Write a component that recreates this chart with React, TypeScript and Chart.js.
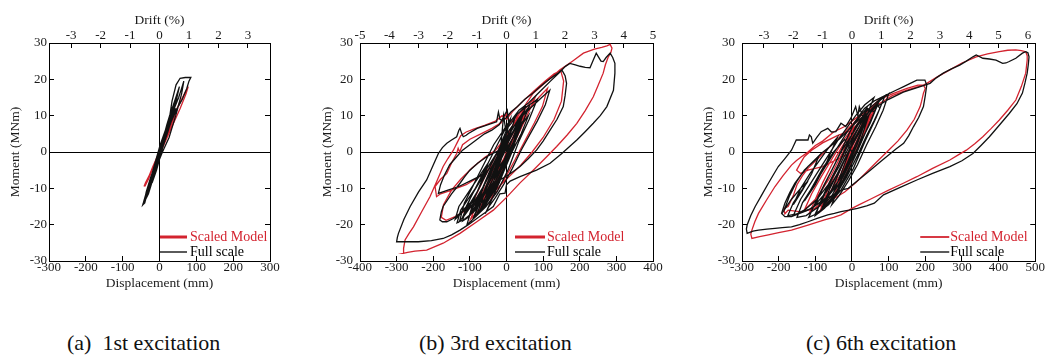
import React, { useEffect, useRef } from 'react';
import { Chart, registerables } from 'chart.js';

Chart.register(...registerables);

type Pair = [number, number];

const FONT = "'Liberation Serif', 'Tinos', 'Times New Roman', 'DejaVu Serif', serif";
const RED = '#d3232f';
const INK = '#1a1a1a';
const DRIFT_MM_PER_PERCENT = 80;

const momentTicks = [-30, -20, -10, 0, 10, 20, 30];

// ---------- (a) 1st excitation ----------
const aDispTicks = [-300, -200, -100, 0, 100, 200, 300];
const aDriftTicks = [-3, -2, -1, 0, 1, 2, 3];
const aFull: Pair[] = [
  [0, 0], [8, 3], [14, 5], [6, 2], [-4, -2], [-8, -3], [2, 1], [16, 6], [22, 7], [12, 3], [-2, -2], [-12, -5],
  [-16, -6], [-6, -2], [10, 4], [24, 8], [30, 10], [20, 6], [4, 0], [-10, -4], [-20, -8], [-24, -9], [-14, -5],
  [4, 1], [22, 7], [34, 11], [40, 13], [30, 9], [12, 3], [-6, -3], [-22, -8], [-30, -11], [-34, -12], [-24, -8],
  [-6, -2], [14, 4], [28, 10], [34, 14], [45, 18.5], [56, 20.3], [70, 20.5], [85, 20.5], [80, 19.5], [74, 17.5],
  [62, 14.5], [48, 12], [30, 8], [10, 2], [-10, -5], [-26, -10], [-36, -12], [-42, -13.5], [-45, -14.5],
  [-40, -14], [-30, -10], [-14, -4], [6, 2], [24, 8], [40, 12], [52, 15], [60, 17.5], [66, 19.5], [60, 16],
  [44, 10], [26, 4], [8, 0], [-8, -4], [-20, -7], [-30, -10], [-38, -13], [-42, -14], [-36, -11], [-24, -7],
  [-10, -3], [4, 1], [20, 5], [34, 9], [44, 12], [36, 10], [20, 6], [6, 2], [-6, -3], [-18, -7], [-28, -10.5],
  [-36, -12.5], [-26, -8], [-12, -3], [2, 2], [16, 6], [30, 10], [40, 13], [48, 15.5], [38, 11], [24, 6],
  [8, 1], [-8, -5], [-20, -8.5], [-12, -5], [0, 0], [12, 4], [26, 9], [18, 5], [4, 0],
  [10, 3.5], [24, 8.5], [36, 12.5], [46, 15.5], [54, 18], [44, 13.5], [30, 9], [14, 4], [-2, -1.5], [-16, -6],
  [-28, -10], [-38, -13], [-44, -14], [-34, -10.5], [-20, -6], [-6, -1], [8, 3], [20, 7.5], [32, 11.5],
  [42, 14], [50, 16.5], [40, 12], [26, 7], [10, 2], [-4, -3], [-18, -7.5], [-30, -11.5], [-40, -13.5],
  [-28, -9], [-14, -4], [0, 0]
];
const aModel: Pair[] = [
  [0, 0], [10, 2.5], [18, 4.5], [8, 1.5], [-6, -1.5], [-10, -2.5], [2, 0.5], [22, 5.5], [28, 7], [14, 3],
  [-4, -1.5], [-16, -4], [-20, -5], [-8, -2], [12, 3], [32, 8], [38, 9.5], [26, 6], [6, 1], [-12, -3.5],
  [-26, -6], [-30, -7], [-18, -4], [4, 1], [30, 7.5], [46, 11.5], [54, 13.5], [40, 9.5], [18, 4], [-6, -2],
  [-28, -6.5], [-38, -8.5], [-42, -9.5], [-30, -7], [-8, -2], [20, 5], [44, 11], [60, 14.5], [70, 16.5],
  [76, 17.5], [78, 18], [72, 16], [56, 12], [34, 7], [12, 2], [-10, -3], [-26, -6], [-36, -8.5], [-40, -9.5],
  [-30, -7.5], [-14, -3.5], [6, 1.5], [26, 6], [42, 10], [30, 7], [10, 2], [0, 0]
];

// ---------- (b) 3rd excitation ----------
const bDispTicks = [-400, -300, -200, -100, 0, 100, 200, 300, 400];
const bDriftTicks = [-5, -4, -3, -2, -1, 0, 1, 2, 3, 4, 5];
const bFull: Pair[] = [
  [0, 0], [18, 4], [32, 7], [20, 3], [-8, -3], [-30, -8], [-44, -11], [-28, -6], [-4, 1], [22, 6], [40, 9],
  [26, 4], [0, -3], [-36, -10], [-58, -14], [-72, -16], [-52, -11], [-24, -4], [4, 3], [30, 8], [50, 11],
  [62, 12.5], [40, 7], [12, 0], [-18, -7], [-48, -13], [-78, -17], [-92, -18.5], [-70, -13], [-42, -6],
  [-16, 1], [-8, 10], [-2, 6], [14, 8], [30, 10.5], [48, 12], [70, 13.5], [84, 14.5], [62, 9], [34, 3],
  [4, -5], [-26, -11], [-56, -15], [-86, -18], [-108, -20], [-98, -16.5], [-78, -12.5], [-56, -8], [-32, -3],
  [-12, 3], [8, 8], [34, 11.5],
  [60, 13.5], [90, 16.5], [120, 19.5], [146, 22], [160, 23.5], [173, 24.4], [188, 24], [201, 23.6], [215, 23.3],
  [228, 23.2], [237, 25.3], [245, 27.2], [251, 26.2], [258, 25], [264, 24.9], [272, 26], [283, 27.2], [290, 26],
  [296, 24.4], [296, 21.7], [292, 17], [274, 12.5], [256, 10], [237, 7.9], [214, 5.5], [192, 3.3], [170, 1.3],
  [151, -0.4], [119, -3.1], [82, -5], [37, -6.8], [10, -8], [0, -9], [-4, -11.3], [-18, -11.5], [-36, -15],
  [-60, -16.8], [-81, -18.3], [-104, -20], [-127, -21.5], [-150, -22.8], [-173, -23.8], [-205, -24.4],
  [-241, -24.7], [-270, -24.7], [-300, -24.7], [-298, -23.5], [-295, -22.4], [-280, -18.5], [-263, -15],
  [-240, -11], [-218, -7.7], [-200, -3.6], [-186, -0.4], [-175, 1.2], [-163, 2.4], [-150, 3.3], [-136, 4.2],
  [-130, 6], [-127, 6.5], [-122, 5], [-118, 4.2], [-110, 4.6], [-104, 5.1], [-80, 6.5], [-54, 7.4], [-27, 8.3],
  [-24, 10], [-22, 11], [-18, 9], [-10, 8.6], [0, 9.5],
  [12, 11], [30, 12.5], [50, 14.5], [70, 16], [90, 17.8], [110, 19.5], [130, 21], [142, 21.8], [151, 22.6],
  [160, 21], [164, 18.9], [160, 15.5], [155, 12.5], [138, 9], [119, 6], [100, 3], [82, 0.5], [60, -1.8],
  [37, -4], [10, -6], [-18, -7.7],
  [-36, -9.5], [-54, -11], [-72, -12.3], [-86, -13.2], [-100, -14.1], [-114, -15.5], [-127, -16.9],
  [-145, -18.3], [-163, -19.2], [-175, -19.2], [-182, -18.7], [-178, -16.5], [-173, -15], [-150, -11.5],
  [-127, -8.6], [-114, -6.8], [-100, -5], [-78, -3], [-54, -1.3], [-36, -0.3], [-18, 0.5],
  [0, 3], [14, 6], [32, 9], [46, 11], [30, 7], [10, 2], [-14, -4], [-40, -9], [-66, -12.5], [-92, -14.5],
  [-112, -16], [-96, -12], [-72, -8], [-50, -5], [-70, -6.5], [-100, -8], [-130, -9.5], [-160, -10.5],
  [-186, -11.4], [-180, -9], [-170, -6.5], [-155, -3.5], [-136, -1.3], [-120, 0.5], [-100, 2], [-80, 3.5],
  [-60, 5], [-40, 6], [-20, 7.5], [-6, 10], [2, 11.5], [6, 8], [20, 9.5],
  [36, 11], [52, 12.5], [36, 7.5], [12, 1], [-14, -6], [-40, -11.5], [-64, -15.5], [-80, -17], [-62, -12],
  [-36, -5.5], [-10, 1.5], [16, 6.5], [44, 10], [70, 12.5], [96, 15], [118, 17], [106, 13], [84, 8.5],
  [62, 4.5], [40, 0.5], [16, -4.5], [-8, -9], [-30, -12.5], [-48, -15], [-58, -17], [-40, -13], [-20, -8.5],
  [0, -3.5], [20, 1.5],
  [-20, -4], [-50, -10], [-80, -15], [-105, -18], [-120, -19], [-110, -15], [-90, -11], [-70, -7], [-45, -2],
  [-25, 2], [-5, 6], [10, 9], [-5, 3], [-30, -3], [-60, -9], [-90, -14], [-115, -17.5], [-128, -19],
  [-115, -14], [-95, -10], [-75, -6], [-55, -2], [-35, 2], [-15, 5], [5, 8], [25, 10], [10, 5], [-15, -1],
  [-40, -7], [-65, -12], [-85, -15], [-100, -17], [-85, -12], [-65, -8], [-40, -3], [-20, 1], [0, 5], [15, 7],
  [-5, 1], [-30, -5], [-55, -10], [-75, -13], [-60, -9], [-40, -5], [-20, -1], [0, 3], [20, 6], [40, 8],
  [25, 4], [0, -1], [-25, -7], [-50, -12], [-72, -16], [-88, -18], [-70, -13], [-50, -9], [-25, -4], [0, 1],
  [25, 5], [45, 8], [60, 10], [40, 5], [15, 0], [-10, -6], [-35, -11], [-60, -15], [-45, -10], [-20, -5],
  [5, 0], [30, 5], [10, 0],
  [-30, -8], [-60, -13], [-90, -16.5], [-115, -18.5], [-135, -19.5], [-125, -16], [-105, -13], [-85, -10],
  [-60, -6], [-80, -11], [-105, -15], [-125, -17], [-140, -18.5], [-130, -15], [-110, -12], [-90, -9],
  [-70, -6], [-50, -3], [-70, -9], [-95, -14], [-118, -17.5], [-100, -13], [-75, -8], [-50, -4], [-25, 0],
  [0, 4], [-20, -2], [-45, -8], [-70, -13], [-90, -16], [-70, -11], [-45, -5], [-20, 0], [5, 5], [0, 0]
];
const bModel: Pair[] = [
  [0, 0], [16, 3.5], [30, 6.5], [14, 2], [-12, -4], [-34, -9], [-18, -4.5], [8, 2], [36, 8], [54, 11],
  [32, 5.5], [2, -2], [-30, -9], [-56, -13.5], [-76, -16.5], [-54, -11], [-26, -4], [-2, 3], [26, 8.5],
  [56, 12.5], [78, 15], [56, 10], [26, 3.5], [-8, -4.5], [-42, -11.5], [-72, -15.5], [-98, -18.5], [-80, -14],
  [-52, -8.5], [-22, -1.5], [6, 5.5], [38, 11],
  [73, 16.2], [110, 19.5], [146, 22.6], [180, 25], [210, 27.2], [240, 28.3], [260, 28.8], [274, 29.2],
  [283, 29.6], [288, 28.6], [285, 27.4], [278, 26.2], [270, 24], [264, 21.7], [250, 18.3], [237, 15.2],
  [215, 11.4], [192, 7.9], [165, 4.6], [137, 1.5], [105, -1.8], [73, -5], [37, -8.5], [0, -12.5], [-36, -16],
  [-81, -19.2], [-127, -22.4], [-173, -25.1], [-218, -27], [-250, -27.3], [-270, -27.6], [-282, -27.9],
  [-281, -26.5], [-277, -24.2], [-266, -22.4], [-254, -20.6], [-232, -16.5], [-209, -12.3], [-190, -8],
  [-173, -4], [-160, -1.8], [-145, 0.5], [-135, 2.5], [-125, 4.5], [-110, 5.5], [-90, 6.3], [-60, 7.3],
  [-30, 8.5], [-12, 10], [0, 9],
  [20, 11.5], [45, 14], [75, 16.8], [105, 19.5], [130, 21.5], [148, 22.4], [156, 19.5], [150, 14], [130, 9],
  [100, 4], [70, 0], [40, -3.5], [10, -6.5], [-20, -9.5], [-50, -12], [-80, -14], [-110, -16], [-140, -17.8],
  [-165, -18.8], [-178, -18], [-172, -14.5], [-150, -10.5], [-125, -7.5], [-95, -4.5], [-60, -1.5], [-30, 0.5],
  [-10, 3],
  [-30, -3], [-70, -6.5], [-110, -9], [-150, -10.5], [-180, -11.5], [-191, -12.3], [-195, -9.5], [-180, -7.5],
  [-163, -5.9], [-150, -3], [-136, -0.4], [-132, 1], [-128, 0], [-120, 2], [-100, 3.5], [-70, 5], [-40, 6.5],
  [-15, 8], [0, 10.5], [10, 8],
  [30, 10], [50, 12], [30, 6.5], [6, 0.5], [-20, -6], [-46, -11.5], [-70, -15], [-52, -10.5], [-26, -4], [0, 2],
  [28, 7], [58, 11.5], [88, 15], [112, 17.5], [98, 12.5], [76, 8], [50, 3], [24, -2], [0, -6.5], [-24, -10.5],
  [-44, -13.5], [-28, -9], [-6, -3], [12, 1.5], [-14, -3], [-44, -9], [-74, -14], [-100, -17.5], [-84, -12],
  [-60, -7], [-34, -2], [-10, 3], [12, 6.5], [0, 0]
];

// ---------- (c) 6th excitation ----------
const cDispTicks = [-300, -200, -100, 0, 100, 200, 300, 400, 500];
const cDriftTicks = [-3, -2, -1, 0, 1, 2, 3, 4, 5, 6];
const cFull: Pair[] = [
  [0, 0], [16, 3.5], [30, 6.5], [14, 2], [-12, -4], [-34, -8.5], [-50, -11], [-30, -6], [-4, 1], [24, 6],
  [44, 9.5], [26, 4], [0, -3], [-36, -10], [-62, -13.5], [-80, -15.5], [-56, -10.5], [-26, -3.5], [4, 3],
  [34, 8.5], [56, 11.5], [70, 13], [46, 7.5], [16, 0.5], [-16, -6.5], [-50, -12.5], [-84, -16], [-100, -17],
  [-76, -12], [-46, -5.5], [-18, 1], [10, 7], [42, 11.5], [70, 14], [90, 15.5], [66, 9.5], [36, 3], [4, -4.5],
  [-30, -10.5], [-64, -14.5], [-96, -17], [-118, -18], [-100, -14], [-76, -9], [-50, -4], [-22, 2], [6, 8],
  [34, 12],
  [60, 14], [90, 15.5], [120, 17], [141, 18], [159, 18.9], [177, 19.8], [199, 19.8], [204, 18.4], [200, 15.5],
  [195, 12.5], [182, 9.5], [168, 7], [155, 4.5], [141, 2.4], [120, 0.8], [105, -0.4], [80, -2.5], [50, -5],
  [20, -7.5], [-10, -10],
  [-30, -10.5], [-75, -13.2], [-120, -16], [-165, -17.8], [-183, -17.8], [-192, -16.9], [-183, -14.1],
  [-170, -11.2], [-156, -8.6], [-138, -6.2], [-120, -4], [-100, -2.2], [-84, -0.4], [-60, 1.5], [-35, 3.5],
  [-10, 6], [20, 9],
  [60, 12], [100, 14.5], [140, 16.5], [180, 17.8], [213, 18.9], [230, 20.4], [249, 21.7], [270, 22.8],
  [294, 23.9], [312, 25], [330, 26.2], [339, 26.7], [357, 25.8], [375, 25.6], [393, 25.3], [411, 24.4],
  [420, 24.5], [429, 24.9], [447, 25.8], [465, 27.2], [474, 27.6], [480, 27.3], [483, 26.2], [481, 24],
  [478, 21.7], [472, 19], [465, 16.2], [450, 13.3], [429, 10.6], [403, 7.5], [375, 4.2], [352, 1.8], [330, -0.4],
  [300, -2.4], [267, -4], [220, -5.9], [177, -7.7], [130, -9.8], [86, -11.8], [61, -14.1], [40, -14.8],
  [15, -15.5], [-8, -16], [-30, -16.4], [-48, -16.9], [-66, -17.3], [-95, -18.3], [-120, -19.2], [-143, -20],
  [-165, -20.6], [-190, -20.8], [-210, -21], [-232, -21.2], [-255, -21.5], [-270, -21.8], [-286, -22.4],
  [-288, -21.2], [-286, -20.1], [-276, -17.5], [-264, -15], [-246, -11.8], [-228, -8.6], [-214, -6.2],
  [-201, -4], [-183, -1.8], [-165, 0.5], [-158, 2], [-152, 3.3], [-136, 3.3], [-120, 3.3], [-116, 4.7],
  [-111, 4.2], [-107, 2.4], [-96, 4], [-84, 5.6], [-66, 6.5], [-56, 5.5], [-44, 5.6], [-30, 7.9], [-17, 7],
  [-3, 9.3], [4, 11], [10, 12.5], [16, 10], [20, 12.5], [25, 11], [29, 9.7], [36, 11], [42, 12], [50, 11.5],
  [61, 11.1], [66, 12], [70, 12.9], [76, 12],
  [60, 8.5], [40, 4.5], [15, -1], [-15, -7], [-45, -12], [-75, -15.5], [-100, -17.5], [-85, -13.5], [-65, -9],
  [-40, -4], [-15, 1], [10, 5.5], [35, 9.5], [55, 12], [80, 14.5], [100, 16], [85, 11.5], [65, 7], [40, 2],
  [15, -3.5], [-10, -8], [-35, -12], [-55, -14.5], [-40, -10.5], [-20, -5.5], [0, -1], [10, 1.5],
  [-20, -5], [-55, -11], [-90, -15], [-125, -17.5], [-150, -18], [-135, -14], [-110, -10], [-85, -6], [-60, -2],
  [-35, 2], [-10, 6], [15, 9], [40, 12], [20, 7], [-5, 2], [-35, -4], [-65, -9], [-95, -13], [-130, -16],
  [-160, -17.5], [-140, -13], [-115, -9], [-90, -5], [-65, -1], [-40, 3], [-15, 6.5], [10, 10], [35, 13],
  [60, 15], [40, 10], [15, 5], [-10, 0], [-40, -6], [-70, -11], [-100, -14.5], [-80, -10], [-55, -5], [-30, 0],
  [-5, 4], [20, 8], [45, 11], [70, 13], [50, 8], [25, 3], [0, -2], [-25, -7], [-55, -12], [-80, -15], [-60, -10],
  [-35, -5], [-10, 0], [15, 5], [40, 9], [20, 4], [0, 0],
  [-30, -7], [-70, -12.5], [-110, -15.5], [-150, -17], [-175, -17.5], [-160, -14], [-140, -11], [-120, -8],
  [-140, -10], [-165, -13], [-185, -16], [-170, -12], [-150, -8], [-130, -5], [-110, -3], [-90, -1], [-110, -6],
  [-135, -10.5], [-160, -14.5], [-140, -10], [-115, -6], [-90, -2.5], [-65, 1], [-40, 4], [-70, -3], [-100, -9],
  [-130, -13.5], [-105, -9], [-80, -4.5], [-50, 0], [-20, 3.5], [0, 0]
];
const cModel: Pair[] = [
  [0, 0], [14, 3], [28, 6], [12, 1.5], [-14, -4.5], [-36, -9], [-20, -4.5], [6, 1.5], [30, 7], [50, 10.5],
  [30, 5], [2, -2], [-32, -9.5], [-58, -13], [-76, -15], [-54, -10], [-24, -3], [6, 3.5], [36, 9], [62, 12.5],
  [40, 7], [10, 0], [-22, -7.5], [-56, -13.5], [-88, -16.5], [-70, -11.5], [-40, -4.5], [-12, 2], [16, 7.5],
  [48, 12], [76, 14.5],
  [110, 16], [150, 17.5], [180, 18.4], [195, 18.4], [200, 17.5], [195, 16.2], [190, 14], [186, 12.5], [170, 9],
  [150, 6], [125, 3], [100, 0.5], [70, -2.5], [40, -5.5], [10, -8.5], [-20, -11],
  [-60, -13.5], [-100, -15.5], [-140, -16.5], [-174, -16], [-183, -17], [-186, -15.5], [-174, -15],
  [-160, -12], [-150, -9], [-135, -6.5], [-120, -4.5], [-90, -1.5], [-60, 1.5], [-30, 4.5], [0, 7.5], [30, 10.5],
  [70, 13], [110, 15.5], [150, 17], [195, 18.4], [204, 18.9], [235, 20.8], [267, 22.6], [300, 24.5],
  [339, 26.2], [370, 27], [402, 27.6], [425, 28], [447, 28.1], [462, 27.9], [474, 27.6], [478, 26.5],
  [478, 25.3], [476, 23.5], [474, 21.7], [462, 18], [447, 14.3], [425, 11.5], [402, 8.8], [380, 6.5],
  [357, 4.2], [335, 2.3], [312, 0.5], [290, -0.8], [267, -2.2], [220, -4.5], [177, -6.8], [140, -8.6],
  [100, -10.5], [50, -13], [20, -14.5], [0, -15.5], [-30, -17.3], [-50, -18], [-75, -18.7], [-120, -20.1],
  [-165, -21.5], [-200, -22.2], [-228, -22.8], [-252, -23.3], [-273, -23.8], [-276, -22.6], [-273, -21.5],
  [-265, -19.2], [-255, -16.9], [-233, -13.2], [-210, -9.5], [-188, -6.5], [-165, -3.6], [-152, -2.4],
  [-138, -1.3], [-120, 0], [-100, 1.8], [-80, 3], [-50, 5.5], [-20, 7], [0, 8.5], [20, 10],
  [40, 11], [20, 6], [-5, 0], [-30, -6], [-60, -11], [-90, -14.5], [-115, -16.5], [-100, -13], [-80, -8.5],
  [-55, -3.5], [-30, 1], [-5, 5], [20, 8.5], [45, 11.5], [70, 13.5], [50, 8.5], [25, 3], [0, -2.5], [-25, -8],
  [-50, -12.5], [-35, -8], [-15, -3], [0, 0],
  [-40, -2], [-80, -4], [-120, -5], [-140, -5.9], [-151, -5], [-140, -3], [-130, -1.3], [-110, 0.5], [-80, 2.5],
  [-40, 4.5], [0, 6], [-25, 0], [-60, -7], [-95, -12.5], [-130, -16], [-110, -11.5], [-85, -7], [-55, -2],
  [-25, 3], [5, 7], [0, 0]
];

const captions = ['(a)  1st excitation', '(b) 3rd excitation', '(c) 6th excitation'];

interface PanelCfg {
  left: number;
  width: number;
  plotLeft: number;
  plotRight: number;
  dispTicks: number[];
  driftTicks: number[];
  full: Pair[];
  model: Pair[];
  yLabelPad: number;
  yTitlePad: number;
  legend: { from: number; to: number; text: number; redWidth: number };
}

const CANVAS_H = 300;
const PLOT_TOP = 43;
const PLOT_BOTTOM = 261;

const panels: PanelCfg[] = [
  {
    left: 0, width: 320, plotLeft: 49, plotRight: 270, dispTicks: aDispTicks, driftTicks: aDriftTicks,
    full: aFull, model: aModel, yLabelPad: 7, yTitlePad: 7,
    legend: { from: 110, to: 83, text: 80, redWidth: 3 }
  },
  {
    left: 310, width: 370, plotLeft: 360, plotRight: 653, dispTicks: bDispTicks, driftTicks: bDriftTicks,
    full: bFull, model: bModel, yLabelPad: 12, yTitlePad: 9,
    legend: { from: 138, to: 108, text: 106, redWidth: 3 }
  },
  {
    left: 690, width: 359, plotLeft: 742, plotRight: 1038, dispTicks: cDispTicks, driftTicks: cDriftTicks,
    full: cFull, model: cModel, yLabelPad: 12, yTitlePad: 10,
    legend: { from: 115, to: 86, text: 85, redWidth: 1.8 }
  }
];

const insideLegend = {
  id: 'insideLegend',
  afterDraw(chart: any) {
    const o = chart.options.plugins.insideLegend;
    if (!o) return;
    const { ctx, chartArea: ca } = chart;
    const y1 = ca.bottom - 24;
    const y2 = ca.bottom - 9;
    ctx.save();
    ctx.lineCap = 'butt';
    ctx.strokeStyle = RED;
    ctx.lineWidth = o.redWidth;
    ctx.beginPath();
    ctx.moveTo(ca.right - o.from, y1);
    ctx.lineTo(ca.right - o.to, y1);
    ctx.stroke();
    ctx.strokeStyle = '#000';
    ctx.lineWidth = 1.3;
    ctx.beginPath();
    ctx.moveTo(ca.right - o.from, y2);
    ctx.lineTo(ca.right - o.to, y2);
    ctx.stroke();
    ctx.font = `14px ${FONT}`;
    ctx.textBaseline = 'middle';
    ctx.textAlign = 'left';
    ctx.fillStyle = RED;
    ctx.fillText('Scaled Model', ca.right - o.text, y1);
    ctx.fillStyle = '#000';
    ctx.fillText('Full scale', ca.right - o.text, y2);
    ctx.restore();
  }
};

function Panel({ cfg }: { cfg: PanelCfg }) {
  const ref = useRef<HTMLCanvasElement | null>(null);
  useEffect(() => {
    if (!ref.current) return;
    const xMin = cfg.dispTicks[0];
    const xMax = cfg.dispTicks[cfg.dispTicks.length - 1];
    const tickFont = { family: FONT, size: 13 };
    const titleFont = { family: FONT, size: 13.5 };
    const zeroColor = (c: any) => (c.tick && c.tick.value === 0 ? '#000' : 'rgba(0,0,0,0)');
    const chart = new Chart(ref.current, {
      type: 'scatter',
      data: {
        datasets: [
          {
            label: 'Full scale',
            data: cfg.full.map(([x, y]) => ({ x, y })),
            showLine: true,
            borderColor: '#111',
            borderWidth: 1.3,
            pointRadius: 0,
            tension: 0
          },
          {
            label: 'Scaled Model',
            data: cfg.model.map(([x, y]) => ({ x, y })),
            showLine: true,
            borderColor: RED,
            borderWidth: 1.3,
            pointRadius: 0,
            tension: 0
          }
        ]
      },
      options: {
        responsive: false,
        animation: false,
        events: [],
        layout: { padding: 0, autoPadding: false } as any,
        plugins: {
          legend: { display: false },
          tooltip: { enabled: false },
          insideLegend: cfg.legend
        } as any,
        scales: {
          x: {
            type: 'linear',
            position: 'bottom',
            min: xMin,
            max: xMax,
            afterBuildTicks: (s: any) => { s.ticks = cfg.dispTicks.map((v) => ({ value: v })); },
            ticks: { font: tickFont, color: INK, padding: 4, maxRotation: 0, autoSkip: false },
            grid: { drawOnChartArea: true, color: zeroColor, tickColor: '#000', tickLength: -5, lineWidth: 1 },
            border: { display: true, color: '#000', width: 1 },
            title: { display: true, text: 'Displacement (mm)', font: titleFont, color: INK, padding: { top: 0, bottom: 8 } },
            afterFit: (s: any) => { s.height = CANVAS_H - PLOT_BOTTOM; }
          },
          x2: {
            type: 'linear',
            position: 'top',
            min: xMin / DRIFT_MM_PER_PERCENT,
            max: xMax / DRIFT_MM_PER_PERCENT,
            afterBuildTicks: (s: any) => { s.ticks = cfg.driftTicks.map((v) => ({ value: v })); },
            ticks: { font: tickFont, color: INK, padding: 5, maxRotation: 0, autoSkip: false },
            grid: { drawOnChartArea: false, tickColor: '#000', tickLength: -5 },
            border: { display: true, color: '#000', width: 1 },
            title: { display: true, text: 'Drift (%)', font: titleFont, color: INK, padding: { top: 12, bottom: 0 } },
            afterFit: (s: any) => { s.height = PLOT_TOP; }
          },
          y: {
            type: 'linear',
            position: 'left',
            min: -30,
            max: 30,
            afterBuildTicks: (s: any) => { s.ticks = momentTicks.map((v) => ({ value: v })); },
            ticks: { font: tickFont, color: INK, padding: cfg.yLabelPad, autoSkip: false },
            grid: { drawOnChartArea: true, color: zeroColor, tickColor: '#000', tickLength: -5, lineWidth: 1 },
            border: { display: true, color: '#000', width: 1 },
            title: { display: true, text: 'Moment (MNm)', font: titleFont, color: INK, padding: { top: cfg.yTitlePad, bottom: 0 } },
            afterFit: (s: any) => { s.width = cfg.plotLeft - cfg.left; }
          },
          y2: {
            type: 'linear',
            position: 'right',
            min: -30,
            max: 30,
            afterBuildTicks: (s: any) => { s.ticks = momentTicks.map((v) => ({ value: v })); },
            ticks: { display: false },
            grid: { drawOnChartArea: false, tickColor: '#000', tickLength: -5 },
            border: { display: true, color: '#000', width: 1 },
            afterFit: (s: any) => { s.width = cfg.left + cfg.width - cfg.plotRight; }
          }
        }
      } as any,
      plugins: [insideLegend]
    });
    return () => chart.destroy();
  }, [cfg]);
  return (
    <canvas
      ref={ref}
      width={cfg.width}
      height={CANVAS_H}
      style={{ position: 'absolute', left: cfg.left, top: 0, width: cfg.width, height: CANVAS_H, display: 'block' }}
    />
  );
}

const captionLefts = [67, 419, 806];

export default function App() {
  return (
    <div style={{ position: 'absolute', left: 0, top: 0, width: 1049, height: 356, background: '#fff', overflow: 'hidden' }}>
      {panels.map((p, i) => (
        <Panel key={i} cfg={p} />
      ))}
      {captions.map((c, i) => (
        <div
          key={c}
          style={{
            position: 'absolute',
            left: captionLefts[i],
            top: 331,
            fontFamily: FONT,
            fontSize: 22,
            lineHeight: '24px',
            whiteSpace: 'pre',
            color: '#111'
          }}
        >
          {c}
        </div>
      ))}
    </div>
  );
}
